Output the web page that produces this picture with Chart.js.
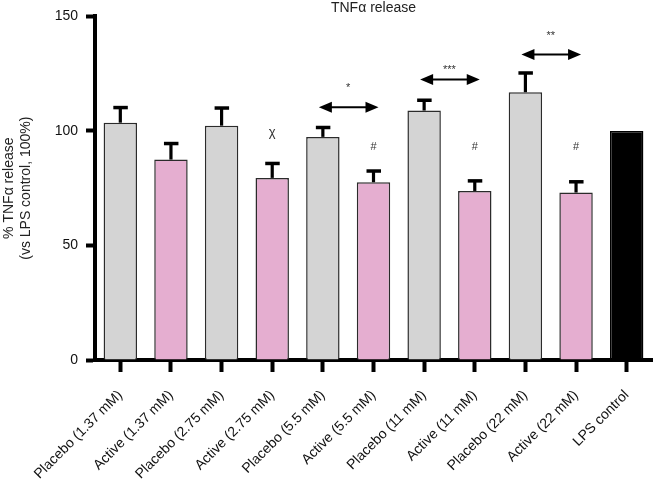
<!DOCTYPE html>
<html><head><meta charset="utf-8">
<script src="https://cdn.jsdelivr.net/npm/chart.js@4/dist/chart.umd.min.js"></script>
<style>html,body{margin:0;padding:0;background:#fff}</style>
</head><body>
<canvas id="c" width="657" height="487" style="width:657px;height:487px;display:block"></canvas>
<script>
// ---- data ----
const categories = ['Placebo (1.37 mM)','Active (1.37 mM)','Placebo (2.75 mM)','Active (2.75 mM)','Placebo (5.5 mM)','Active (5.5 mM)','Placebo (11 mM)','Active (11 mM)','Placebo (22 mM)','Active (22 mM)','LPS control'];
const values = [103.6, 87.5, 102.3, 79.5, 97.4, 77.6, 108.9, 73.8, 116.9, 73.1, 100];
const errors = [6.6, 7.0, 7.7, 6.3, 4.1, 4.9, 4.5, 4.4, 8.4, 4.7, 0];
const groups = ['placebo','active','placebo','active','placebo','active','placebo','active','placebo','active','control'];
const yTicks = [0, 50, 100, 150];
// symbols above single bars
const markIndex = [3, 5, 7, 9];
const markText = ['χ', '#', '#', '#'];
const markValue = [97.7, 91.6, 91.6, 91.6];
// comparison arrows
const compareFrom = [4, 6, 8];
const compareTo = [5, 7, 9];
const compareValue = [110.3, 122.5, 133.4];
const compareStars = ['*', '***', '**'];
const starValue = [117.3, 125.1, 140.0];

const groupColor = {placebo: '#d4d4d4', active: '#e5aed0', control: '#000000'};
const groupBorder = {placebo: '#2b2b2b', active: '#2b2b2b', control: '#000000'};

const overlay = {
  id: 'overlay',
  afterDatasetsDraw(chart) {
    const ctx = chart.ctx, ys = chart.scales.y;
    const meta = chart.getDatasetMeta(0);
    ctx.save();
    ctx.strokeStyle = '#000'; ctx.fillStyle = '#000';
    // error bars
    meta.data.forEach((el, i) => {
      if (!errors[i]) return;
      const top = ys.getPixelForValue(values[i]);
      const cap = ys.getPixelForValue(values[i] + errors[i]);
      ctx.lineWidth = 3.2; ctx.lineCap = 'butt';
      ctx.beginPath(); ctx.moveTo(el.x, top); ctx.lineTo(el.x, cap); ctx.stroke();
      ctx.lineWidth = 3.5;
      ctx.beginPath(); ctx.moveTo(el.x - 7, cap); ctx.lineTo(el.x + 7.5, cap); ctx.stroke();
    });
    // single marks
    ctx.textAlign = 'center'; ctx.textBaseline = 'alphabetic'; ctx.fillStyle = '#333';
    markIndex.forEach((idx, k) => {
      const x = meta.data[idx].x, y = ys.getPixelForValue(markValue[k]);
      ctx.font = markText[k] === 'χ' ? '13px "Liberation Sans", Arial, sans-serif' : '11px "Liberation Sans", Arial, sans-serif';
      ctx.fillText(markText[k], x, y);
    });
    // arrows + stars
    compareFrom.forEach((a, k) => {
      const x1 = meta.data[a].x - 4, x2 = meta.data[compareTo[k]].x + 5;
      const y = ys.getPixelForValue(compareValue[k]);
      ctx.fillStyle = '#000'; ctx.strokeStyle = '#000'; ctx.lineWidth = 2;
      ctx.beginPath(); ctx.moveTo(x1 + 10, y); ctx.lineTo(x2 - 10, y); ctx.stroke();
      ctx.beginPath(); ctx.moveTo(x1, y); ctx.lineTo(x1 + 13, y - 5.5); ctx.lineTo(x1 + 13, y + 5.5); ctx.closePath(); ctx.fill();
      ctx.beginPath(); ctx.moveTo(x2, y); ctx.lineTo(x2 - 13, y - 5.5); ctx.lineTo(x2 - 13, y + 5.5); ctx.closePath(); ctx.fill();
      ctx.fillStyle = '#333'; ctx.font = '11px "Liberation Sans", Arial, sans-serif';
      ctx.fillText(compareStars[k], (meta.data[a].x + meta.data[compareTo[k]].x) / 2, ys.getPixelForValue(starValue[k]));
    });
    ctx.restore();
  }
};

Chart.defaults.font.family = '"Liberation Sans", Arial, sans-serif';
Chart.defaults.color = '#222';

new Chart(document.getElementById('c'), {
  type: 'bar',
  data: {
    labels: categories,
    datasets: [{
      data: values,
      backgroundColor: groups.map(g => groupColor[g]),
      borderColor: groups.map(g => groupBorder[g]),
      borderWidth: 1.5,
      barPercentage: 0.66,
      categoryPercentage: 1
    }]
  },
  options: {
    responsive: false,
    animation: false,
    devicePixelRatio: 1,
    layout: {padding: {left: 0, right: 5, top: 0, bottom: 0}},
    plugins: {
      legend: {display: false},
      tooltip: {enabled: false},
      title: {display: true, text: 'TNFα release', fullSize: false, color: '#222',
              font: {size: 14, weight: 'normal', lineHeight: '16px'}, padding: {top: 0, bottom: 0}}
    },
    scales: {
      x: {
        offset: true,
        z: 1,
        afterFit(s) { s.height = 127; },
        grid: {display: true, offset: false, drawOnChartArea: false, drawTicks: true, tickLength: 12, tickWidth: 4, tickColor: '#000'},
        border: {display: true, color: '#000', width: 4},
        ticks: {minRotation: 45, maxRotation: 45, autoSkip: false, padding: 15, color: '#111', font: {size: 14}}
      },
      y: {
        min: 0, max: 150,
        z: 1,
        afterFit(s) { s.width = 95; },
        afterBuildTicks(s) { s.ticks = yTicks.map(v => ({value: v})); },
        grid: {display: true, drawOnChartArea: false, drawTicks: true, tickLength: 9, tickWidth: 4, tickColor: '#000'},
        border: {display: true, color: '#000', width: 4},
        ticks: {padding: 8, color: '#111', font: {size: 14}},
        title: {display: true, text: ['% TNFα release', '(vs LPS control, 100%)'], color: '#222',
                font: {size: 14, lineHeight: 1.25}, padding: {top: 0, bottom: 0}}
      }
    }
  },
  plugins: [overlay]
});
</script>
</body></html>
